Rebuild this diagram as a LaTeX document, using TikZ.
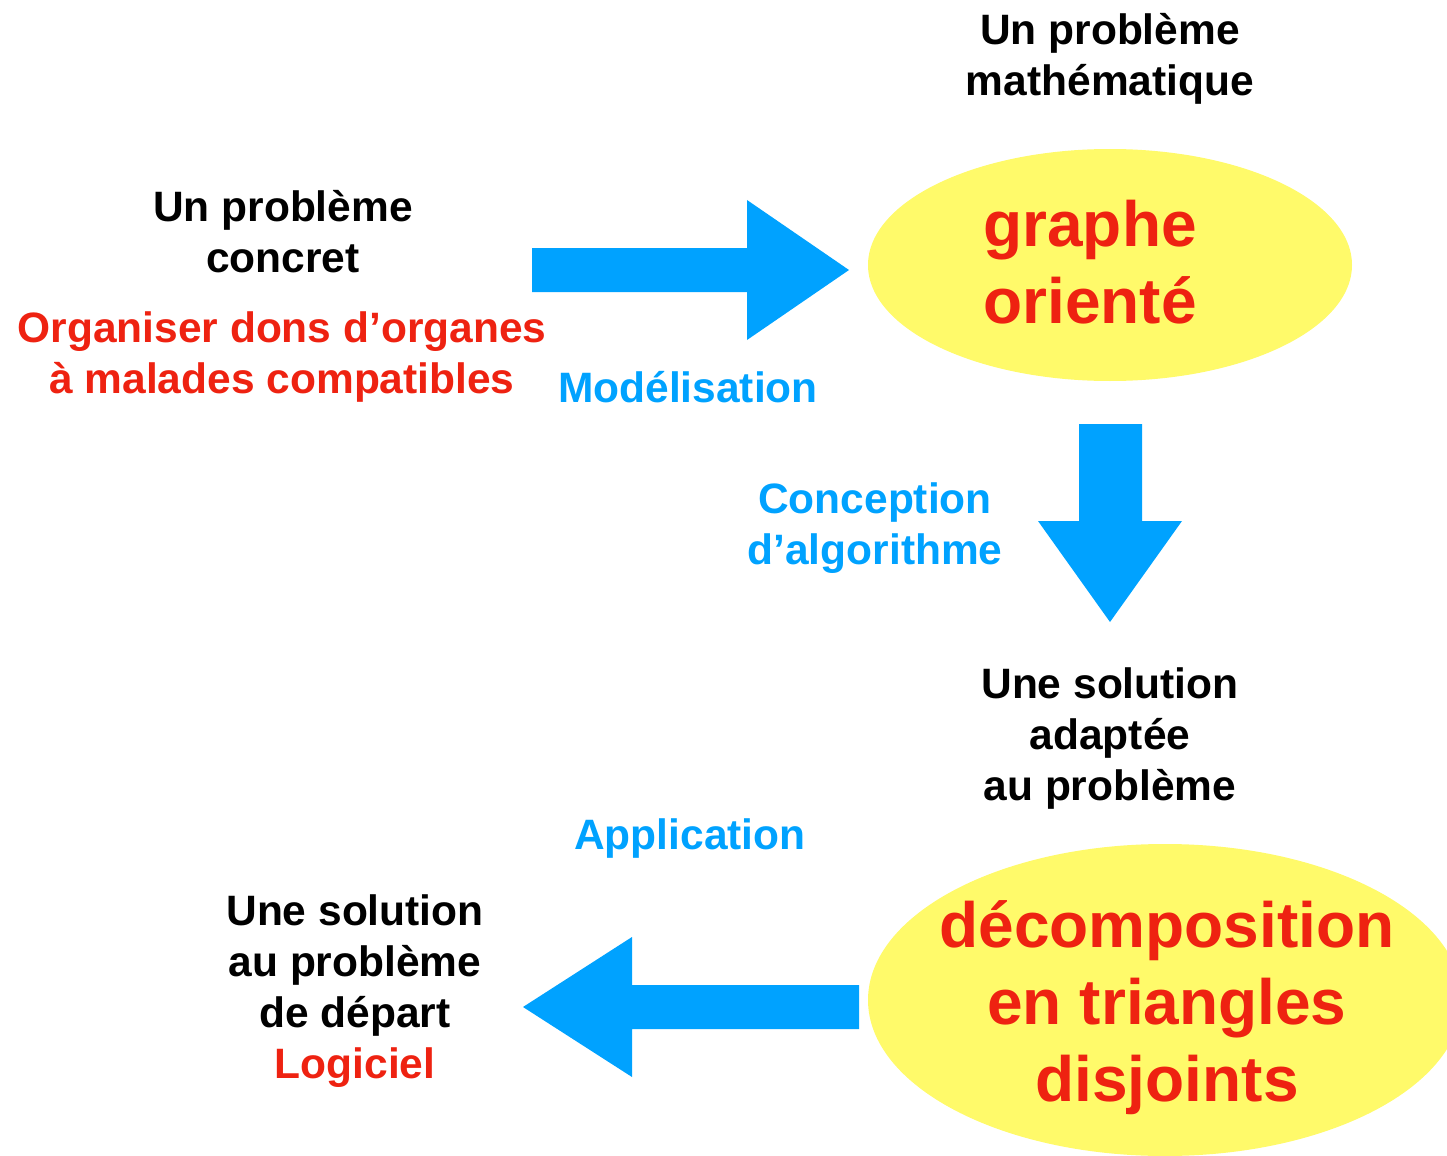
\documentclass[tikz,border=0pt]{standalone}
\usepackage{fontspec}
\setmainfont{Liberation Sans}
\begin{document}
\begin{tikzpicture}[x=0.5pt,y=-0.5pt,
  blk/.style={inner sep=0pt,align=center,font=\bfseries\fontsize{21.25}{25.5}\selectfont,text=black},
  redt/.style={blk,text=myred},
  bluet/.style={blk,text=myblue},
  bigt/.style={blk,text=myred,font=\bfseries\fontsize{32}{38.5}\selectfont},
  barrow/.style={fill=myblue,draw=none}]
\definecolor{myblue}{HTML}{00A2FF}
\definecolor{myred}{HTML}{EE2211}
\definecolor{myyellow}{HTML}{FFFA6A}
\useasboundingbox (0,0) rectangle (1447,1156);
\clip (0,0) rectangle (1447,1156);
% ellipses
\fill[myyellow] (1110,265) ellipse [x radius=242, y radius=116];
\node[bigt] (e1) at (1090,262) {graphe\\orienté};
\fill[myyellow] (1165,1000) ellipse [x radius=297, y radius=156];
\node[bigt] (e2) at (1167,1008) {décomposition\\en triangles\\disjoints};
% texts
\node[blk] (math) at (1110,59) {Un problème\\mathématique};
\node[blk] (conc) at (283,232) {Un problème\\concret};
\node[redt] (org) at (282,357) {Organiser dons d’organes\\à malades compatibles};
\node[bluet] (mod) at (688,387) {Modélisation};
\node[bluet] (conc2) at (875,528) {Conception\\d’algorithme};
\node[blk] (sol) at (1110,739) {Une solution\\adaptée\\au problème};
\node[bluet] (app) at (690,839) {Application};
\node[blk] (dep) at (355,991) {Une solution\\au problème\\de départ\\\textcolor{myred}{Logiciel}};
% block arrows
\fill[barrow] (532,248) -- (747,248) -- (747,200) -- (849,270) -- (747,340) -- (747,292) -- (532,292) -- cycle;
\fill[barrow] (1079,424) -- (1142,424) -- (1142,521) -- (1182,521) -- (1110,622) -- (1038,521) -- (1079,521) -- cycle;
\fill[barrow] (859,985) -- (632,985) -- (632,937) -- (523,1007) -- (632,1077) -- (632,1029) -- (859,1029) -- cycle;
\end{tikzpicture}
\end{document}
